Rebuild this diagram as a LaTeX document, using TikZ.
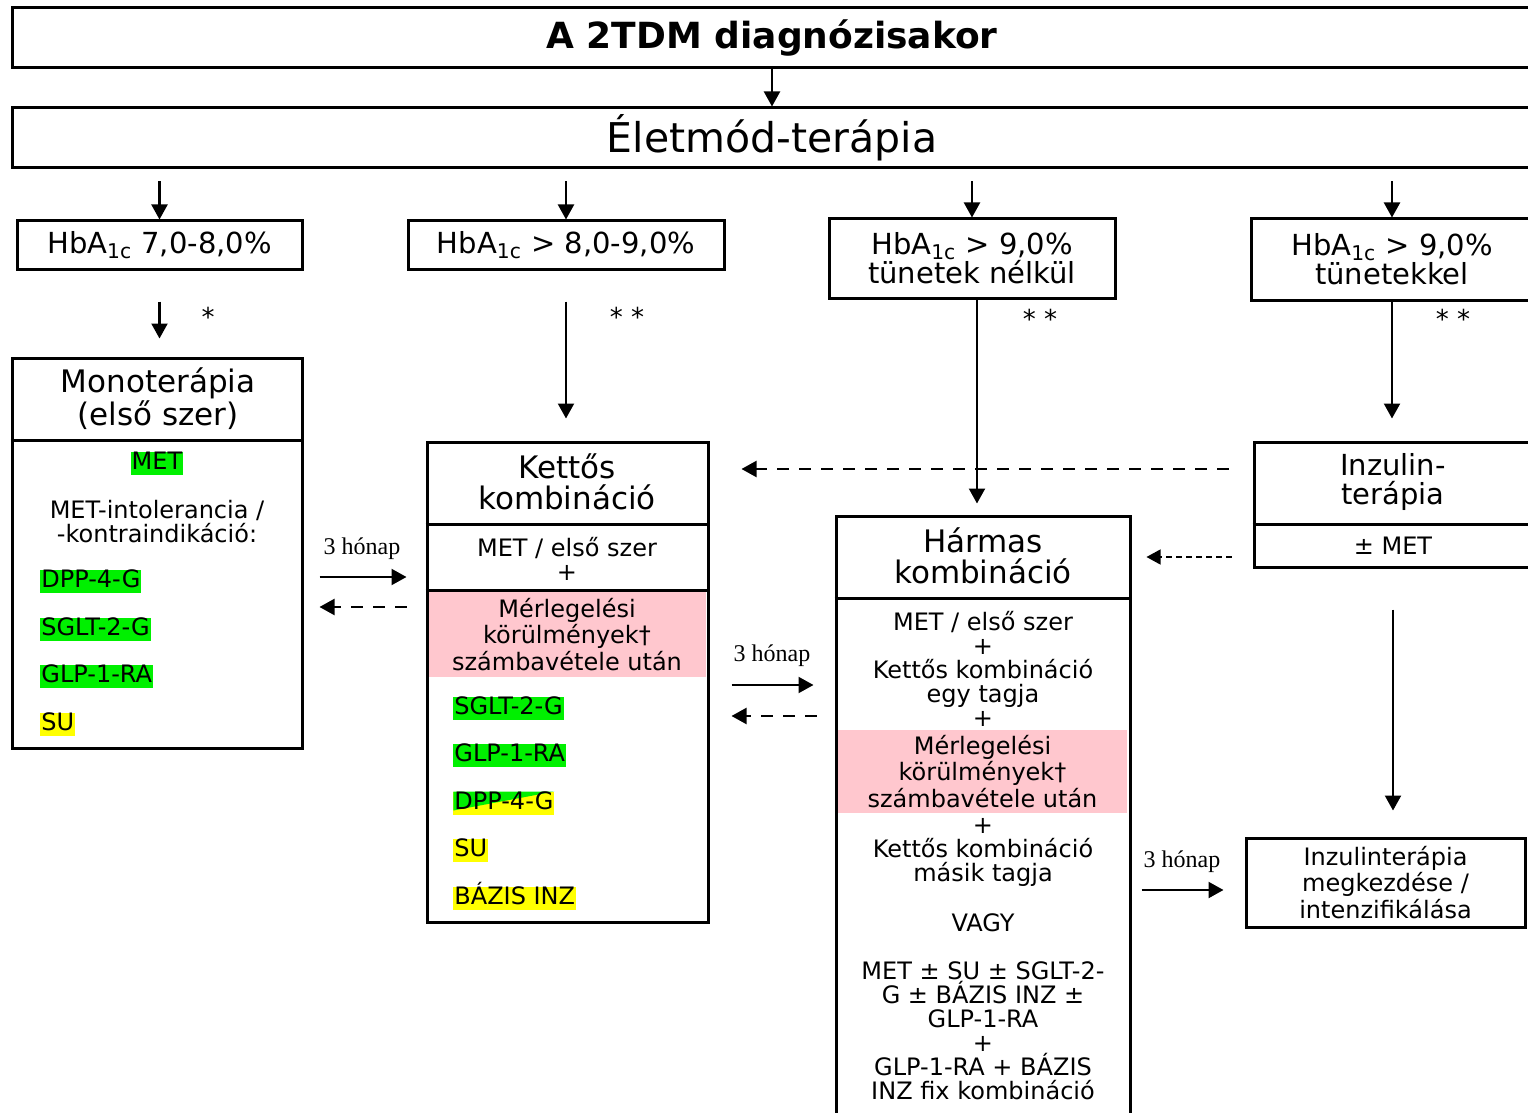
\documentclass[tikz,border=0pt]{standalone}
\usepackage{fontspec}
\setmainfont{DejaVu Sans}
\newfontfamily\hnfont{Liberation Serif}
\usetikzlibrary{arrows.meta}
\definecolor{hlgreen}{RGB}{0,240,0}
\definecolor{hlyellow}{RGB}{255,255,0}
\definecolor{pinkbg}{RGB}{255,199,206}
\tikzset{
  box/.style={draw, line width=1.5pt, inner sep=0pt, align=center},
  sepline/.style={line width=1.5pt},
  arr/.style={-{Triangle[length=7.5pt,width=8pt]}, line width=1.1pt},
  backarr/.style={arr, dash pattern=on 6pt off 5pt},
  fineback/.style={-{Triangle[length=7pt,width=7.5pt]}, line width=0.6pt, dash pattern=on 3pt off 2pt},
  hdr/.style={font=\fontsize{15.5}{15.5}\selectfont, align=center, inner sep=0pt},
  txt/.style={font=\fontsize{12}{12}\selectfont, align=center, inner sep=0pt},
  hl/.style={font=\fontsize{12}{12}\selectfont, inner xsep=0.5pt, inner ysep=0pt, text height=9pt, text depth=2.5pt, anchor=west},
  hlg/.style={hl, fill=hlgreen},
  hly/.style={hl, fill=hlyellow},
  honap/.style={font=\hnfont\fontsize{12}{12}\selectfont, inner sep=0pt},
  star/.style={font=\fontsize{13}{13}\selectfont, inner sep=0pt}
}
\begin{document}
\begin{tikzpicture}[x=0.5pt, y=-0.5pt]
  \useasboundingbox (0,0) rectangle (1528,1113);
  \clip (0,0) rectangle (1528,1113);

  % top
  \node[box, minimum width=760pt, minimum height=30pt, font=\bfseries\fontsize{18}{18}\selectfont] (title) at (772,38) {A 2TDM diagnózisakor};
  \node[box, minimum width=760pt, minimum height=30pt, font=\fontsize{20.5}{20.5}\selectfont] (elet) at (772,138) {Életmód-terápia};
  \draw[arr] (title.south) -- (elet.north);

  % HbA1c levels
  \node[box, minimum width=142.5pt, minimum height=24.5pt, font=\fontsize{14.5}{14.5}\selectfont] (hb1) at (159.5,245.5) {HbA\textsubscript{1c} 7,0-8,0\%};
  \node[box, minimum width=158pt, minimum height=24.5pt, font=\fontsize{14.5}{14.5}\selectfont] (hb2) at (566,245.5) {HbA\textsubscript{1c} > 8,0-9,0\%};
  \node[box, minimum width=143pt, minimum height=39.5pt, font=\fontsize{14.5}{14.5}\selectfont] (hb3) at (972,258.5) {HbA\textsubscript{1c} > 9,0\%\\tünetek nélkül};
  \node[box, minimum width=141pt, minimum height=40.5pt, font=\fontsize{14.5}{14.5}\selectfont] (hb4) at (1392,259.5) {HbA\textsubscript{1c} > 9,0\%\\tünetekkel};
  \foreach \n in {hb1,hb2,hb3,hb4}
    \draw[arr, shorten <=6pt] (elet.south -| \n.north) -- (\n.north);

  % pink backgrounds
  \node[fill=pinkbg, minimum width=139pt, minimum height=42.5pt, inner sep=0pt] (kpink) at (567,634.5) {};
  \node[fill=pinkbg, minimum width=144.5pt, minimum height=41.5pt, inner sep=0pt] (hpink) at (982.5,771.5) {};

  % therapy boxes
  \node[box, minimum width=145pt, minimum height=195pt] (mono) at (157,553) {};
  \node[box, minimum width=140.5pt, minimum height=240pt] (kett) at (567.5,682) {};
  \node[box, minimum width=147pt, minimum height=307pt] (harm) at (983,823) {};
  \node[box, minimum width=139pt, minimum height=62.5pt] (inz) at (1393,504.5) {};
  \node[box, minimum width=139.5pt, minimum height=44.5pt, font=\fontsize{12}{12}\selectfont] (megk) at (1385.5,882.5) {Inzulinterápia\\megkezdése /\\intenzifikálása};
  \draw[sepline] ([yshift=-42pt]mono.north west) -- ([yshift=-42pt]mono.north east);
  \draw[sepline] ([yshift=-42pt]kett.north west) -- ([yshift=-42pt]kett.north east);
  \draw[sepline] ([yshift=-75pt]kett.north west) -- ([yshift=-75pt]kett.north east);
  \draw[sepline] ([yshift=-42pt]harm.north west) -- ([yshift=-42pt]harm.north east);
  \draw[sepline] ([yshift=-42pt]inz.north west) -- ([yshift=-42pt]inz.north east);

  % Monoterapia
  \node[hdr] (monoh) at (158,398.5) {Monoterápia\\(első szer)};
  \node[hlg, anchor=center] (mmet) at (157,463) {MET};
  \node[txt] (mintol) at (157,522) {MET-intolerancia /\\-kontraindikáció:};
  \node[hlg] (mdpp) at (40,581) {DPP-4-G};
  \node[hlg] (msglt) at (40,629) {SGLT-2-G};
  \node[hlg] (mglp) at (40,676) {GLP-1-RA};
  \node[hly] (msu) at (40,724) {SU};

  % Kettos kombinacio
  \node[hdr] (letth) at (567,482) {Kettős\\kombináció};
  \node[txt] (kmet) at (567,559) {MET / első szer\\+};
  \node[txt] at (kpink) (kmerl) {Mérlegelési\\körülmények†\\számbavétele után};
  \node[hlg] (ksglt) at (453,708) {SGLT-2-G};
  \node[hlg] (kglp) at (453,755) {GLP-1-RA};
  \node[hly, path picture={\fill[hlgreen] (path picture bounding box.north west) -- (path picture bounding box.north east) -- ([yshift=2pt]path picture bounding box.south west) -- cycle;}] (kdpp) at (453,803) {DPP-4-G};
  \node[hly] (ksu) at (453,850) {SU};
  \node[hly] (kbazis) at (453,898) {BÁZIS INZ};

  % Harmas kombinacio
  \node[hdr] (harmh) at (983,556) {Hármas\\kombináció};
  \node[txt] (hmet) at (983,668.5) {MET / első szer\\+\\Kettős kombináció\\egy tagja\\+};
  \node[txt] at (hpink) (hmerl) {Mérlegelési\\körülmények†\\számbavétele után};
  \node[txt] (hmasik) at (983,852.5) {+\\Kettős kombináció\\másik tagja};
  \node[txt] (hvagy) at (983,923) {VAGY};
  \node[txt] (hlist) at (983,1030.5) {MET ± SU ± SGLT-2-\\G ± BÁZIS INZ ±\\GLP-1-RA\\+\\GLP-1-RA + BÁZIS\\INZ fix kombináció};

  % Inzulin-terapia
  \node[hdr, font=\fontsize{14.5}{14.5}\selectfont] (inzh) at (1393,481.5) {Inzulin-\\terápia};
  \node[txt] (inzmet) at (1393,546) {± MET};

  % arrows down
  \draw[arr, shorten <=15pt, shorten >=9pt] (hb1.south) -- (hb1.south |- mono.north);
  \draw[arr, shorten <=15pt, shorten >=11pt] (hb2.south) -- (hb2.south |- kett.north);
  \draw[arr, shorten >=5.5pt] ([xshift=2.5pt]hb3.south) -- ([xshift=2.5pt]hb3.south |- harm.north);
  \draw[arr, shorten >=11pt] (hb4.south) -- (hb4.south |- inz.north);
  \draw[arr, shorten <=20.5pt, shorten >=13pt] (inz.south) -- (inz.south |- megk.north);
  \node[star] (s1) at (208,317) {*};
  \node[star] (s2) at (627,317) {* *};
  \node[star] (s3) at (1040,319) {* *};
  \node[star] (s4) at (1453,319) {* *};

  % 3 month steps
  \node[honap] (h1) at (362,549) {3 hónap};
  \draw[arr, shorten <=8pt, shorten >=9.5pt] ([yshift=-12pt]mono.east) -- ([yshift=-12pt]mono.east -| kett.west);
  \draw[backarr, shorten <=9.5pt, shorten >=8pt] ([yshift=-27pt]mono.east -| kett.west) -- ([yshift=-27pt]mono.east);
  \node[honap] (h2) at (772,656) {3 hónap};
  \draw[arr, shorten <=11pt, shorten >=10.5pt] ([yshift=-1.5pt]kett.east) -- ([yshift=-1.5pt]kett.east -| harm.west);
  \draw[backarr, shorten <=9pt, shorten >=11pt] ([yshift=-17pt]kett.east -| harm.west) -- ([yshift=-17pt]kett.east);
  \node[honap] (h3) at (1182,862) {3 hónap};
  \draw[arr, shorten <=5pt, shorten >=10.5pt] ([yshift=-3.75pt]megk.west -| harm.east) -- ([yshift=-3.75pt]megk.west);

  % back from insulin
  \draw[backarr, shorten <=12pt, shorten >=16pt] ([yshift=17.75pt]inz.west) -- ([yshift=17.75pt]inz.west -| kett.east);
  \draw[fineback, shorten <=10.5pt, shorten >=7.5pt] ([yshift=-26.25pt]inz.west) -- ([yshift=-26.25pt]inz.west -| harm.east);
\end{tikzpicture}
\end{document}
